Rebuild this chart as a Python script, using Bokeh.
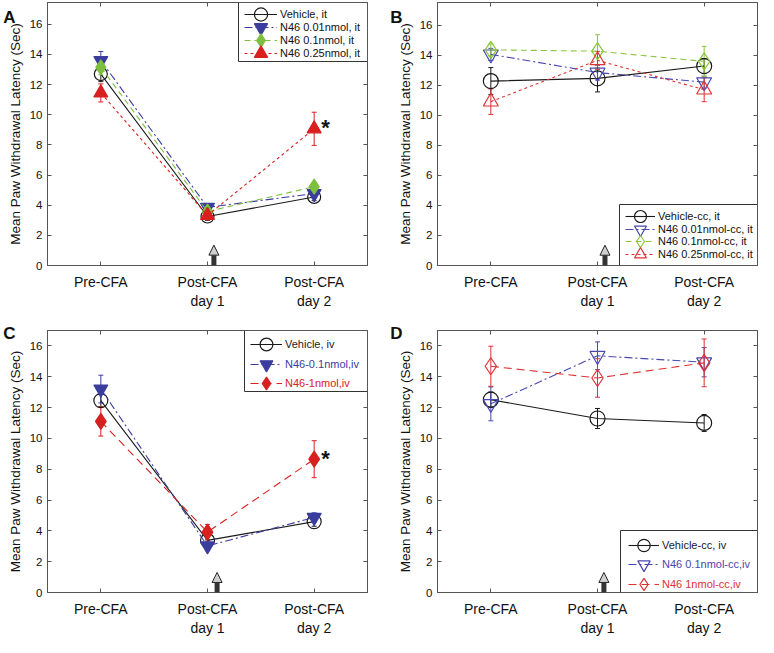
from bokeh.plotting import figure
from bokeh.models import (Range1d, FixedTicker, LinearAxis, Label, Arrow, NormalHead,
                          Whisker, TeeHead, ColumnDataSource, Legend, LegendItem, BoxAnnotation)
from bokeh.layouts import column, row
from bokeh.embed import file_html
from bokeh.resources import INLINE

FONT = "Liberation Sans"

# ---------------- data ----------------
days = [1, 2, 3]
tick_labels = {1: "Pre-CFA", 2: "Post-CFA\nday 1", 3: "Post-CFA\nday 2"}
y_ticks = [0, 2, 4, 6, 8, 10, 12, 14, 16]
y_label = "Mean Paw Withdrawal Latency (Sec)"

# Panel A
a_names = ["Vehicle, it", "N46 0.01nmol, it", "N46 0.1nmol, it", "N46 0.25nmol, it"]
a_vehicle = [12.7, 3.25, 4.55]
a_vehicle_err = [0.5, 0.25, 0.25]
a_n001 = [13.6, 3.86, 4.77]
a_n001_err = [0.6, 0.25, 0.3]
a_n01 = [13.15, 3.58, 5.23]
a_n01_err = [0.5, 0.3, 0.2]
a_n025 = [11.45, 3.32, 9.07]
a_n025_err = [0.6, 0.3, 1.1]

# Panel B
b_names = ["Vehicle-cc, it", "N46 0.01nmol-cc, it", "N46 0.1nmol-cc, it", "N46 0.25nmol-cc, it"]
b_vehicle = [12.27, 12.45, 13.27]
b_vehicle_err = [0.9, 0.9, 0.5]
b_n001 = [14.05, 12.84, 12.2]
b_n001_err = [0.4, 0.5, 0.4]
b_n01 = [14.35, 14.26, 13.58]
b_n01_err = [0.4, 1.1, 1.0]
b_n025 = [10.9, 13.65, 11.7]
b_n025_err = [0.85, 0.6, 0.8]

# Panel C
c_names = ["Vehicle, iv", "N46-0.1nmol,iv", "N46-1nmol,iv"]
c_vehicle = [12.45, 3.38, 4.6]
c_vehicle_err = [0.4, 0.3, 0.3]
c_n01 = [13.2, 3.02, 4.87]
c_n01_err = [0.9, 0.3, 0.3]
c_n1 = [11.1, 3.92, 8.65]
c_n1_err = [0.95, 0.5, 1.2]

# Panel D
d_names = ["Vehicle-cc, iv", "N46 0.1nmol-cc,iv", "N46 1nmol-cc,iv"]
d_vehicle = [12.51, 11.29, 11.0]
d_vehicle_err = [0.5, 0.65, 0.55]
d_n01 = [12.24, 15.36, 14.94]
d_n01_err = [1.1, 0.9, 0.95]
d_n1 = [14.68, 13.92, 14.9]
d_n1_err = [1.3, 1.25, 1.55]

# ---------------- styles ----------------
BLACK = "#1a1a1a"
BLUE_F = "#3a3d9e"
GREEN_F = "#7dbf3f"
RED_F = "#d8201f"
BLUE_O = "#4848b0"
GREEN_O = "#8cc63c"
RED_O = "#dd3333"


def hidden_axis(ticks):
    return LinearAxis(ticker=FixedTicker(ticks=ticks), major_label_text_font_size="1px",
                      major_label_text_color=None, major_label_standoff=0,
                      major_tick_in=4, major_tick_out=0, minor_tick_line_color=None,
                      axis_line_color="#555555", major_tick_line_color="#555555")


def base_fig(fw, fh, bl, br, bt, bb, ymax):
    p = figure(frame_width=fw, frame_height=fh, x_range=Range1d(0.5, 3.5), y_range=Range1d(0, ymax),
               output_backend="svg", toolbar_location=None,
               min_border_left=bl, min_border_right=br, min_border_top=bt, min_border_bottom=bb)
    p.xgrid.visible = False
    p.ygrid.visible = False
    p.outline_line_color = "#555555"
    p.outline_line_width = 1
    p.background_fill_color = "white"
    p.border_fill_color = "white"

    xa = p.xaxis[0]
    xa.ticker = FixedTicker(ticks=days)
    xa.major_label_overrides = tick_labels
    xa.major_label_text_font = FONT
    xa.major_label_text_font_size = "14px"
    xa.major_label_text_color = "#111111"
    xa.major_label_standoff = 8
    ya = p.yaxis[0]
    ya.ticker = FixedTicker(ticks=y_ticks)
    ya.major_label_text_font = FONT
    ya.major_label_text_font_size = "11.5px"
    ya.major_label_text_color = "#111111"
    ya.major_label_standoff = 5
    ya.axis_label = y_label
    ya.axis_label_text_font = FONT
    ya.axis_label_text_font_size = "13.5px"
    ya.axis_label_text_font_style = "normal"
    ya.axis_label_text_color = "#111111"
    ya.axis_label_standoff = 4
    for ax in (xa, ya):
        ax.axis_line_color = "#555555"
        ax.major_tick_in = 4
        ax.major_tick_out = 0
        ax.major_tick_line_color = "#555555"
        ax.minor_tick_line_color = None

    p.add_layout(hidden_axis(y_ticks), "right")
    p.add_layout(hidden_axis(days), "above")
    return p


def add_series(p, y, err, color, dash, marker, size, filled):
    src = ColumnDataSource(dict(x=days, y=y,
                                upper=[v + e for v, e in zip(y, err)],
                                lower=[v - e for v, e in zip(y, err)]))
    w = Whisker(source=src, base="x", upper="upper", lower="lower",
                line_color=color, line_width=1,
                upper_head=TeeHead(size=5, line_color=color, line_width=1),
                lower_head=TeeHead(size=5, line_color=color, line_width=1))
    p.add_layout(w)
    lr = p.line("x", "y", source=src, line_color=color, line_dash=dash, line_width=1.1)
    sr = p.scatter("x", "y", source=src, marker=marker, size=size, line_color=color,
                   fill_color=color if filled else None, line_width=1.2)
    return [lr, sr]


def add_arrow(p, dx, top):
    p.add_layout(Arrow(end=NormalHead(size=10, fill_color="#d0d0d0", line_color="#222222", line_width=1),
                       x_start=2 + dx, y_start=0, x_end=2 + dx, y_end=top,
                       line_color="#333333", line_width=5))


def letter_axis(p, letter, standoff):
    # panel letter drawn as the single tick label of an extra outer left axis
    p.extra_y_ranges = {"lab": Range1d(0, 1)}
    ax = LinearAxis(y_range_name="lab", ticker=FixedTicker(ticks=[1]), major_label_overrides={1: letter},
                    major_label_text_font=FONT, major_label_text_font_size="17px",
                    major_label_text_font_style="bold", major_label_text_color="#111111",
                    major_label_standoff=standoff, major_tick_in=0, major_tick_out=0,
                    major_tick_line_color=None, minor_tick_line_color=None, axis_line_color=None)
    p.add_layout(ax, "left")


def add_star(p, y):
    p.add_layout(Label(x=3, y=y, x_offset=7, y_offset=1, text="*", text_font=FONT,
                       text_font_size="22px", text_font_style="bold", text_color="#111111",
                       text_baseline="middle", text_align="left"))


def framed_legend(p, names, rends, colors, fw, fh, ymax, box_w, box_h, box_top, rows, glyph_off, glyph_w):
    # white framed box (pixel geometry converted to data units)
    left = 0.5 + 3.0 * (fw - box_w) / fw
    top = ymax * (fh - box_top) / fh
    bottom = ymax * (fh - box_top - box_h) / fh
    p.add_layout(BoxAnnotation(left=left, right=3.5, top=top, bottom=bottom,
                               fill_color="white", fill_alpha=1,
                               line_color="#333333", line_alpha=1, line_width=1))
    item_h = 34
    for n, r, c, rc in zip(names, rends, colors, rows):
        yb = fh - (box_top + rc + item_h / 2)
        leg = Legend(items=[LegendItem(label=n, renderers=r)],
                     location=(fw - box_w + glyph_off, yb), padding=0, spacing=0, margin=0,
                     glyph_width=glyph_w, glyph_height=item_h, label_height=12, label_standoff=3,
                     label_text_font=FONT, label_text_font_size="11px", label_text_color=c,
                     border_line_color=None, background_fill_alpha=0)
        p.add_layout(leg)


# ---------------- layout numbers ----------------
FW = 320
FH_A = 263
FH_C = 262
A_YMAX, C_YMAX = 17.45, 17.0

# ---- Panel A ----
pA = base_fig(FW, FH_A, 39, 14, 2, 57, A_YMAX)
rA = [
    add_series(pA, a_vehicle, a_vehicle_err, BLACK, "solid", "circle", 13, False),
    add_series(pA, a_n001, a_n001_err, BLUE_F, "8 3 2 3", "inverted_triangle", 14, True),
    add_series(pA, a_n01, a_n01_err, GREEN_F, "6 4", "diamond", 15, True),
    add_series(pA, a_n025, a_n025_err, RED_F, "3 3", "triangle", 14, True),
]
add_arrow(pA, 0.06, 1.35)
add_star(pA, a_n025[2])
framed_legend(pA, a_names, rA, ["#111111"] * 4, FW, FH_A, A_YMAX,
              129, 59, 0, [11.5, 24.5, 37.5, 50.5], 6, 33)
letter_axis(pA, "A", -11)

# ---- Panel B ----
pB = base_fig(FW, FH_A, 56, 9, 2, 57, 17.5)
rB = [
    add_series(pB, b_vehicle, b_vehicle_err, BLACK, "solid", "circle", 15, False),
    add_series(pB, b_n001, b_n001_err, BLUE_O, "8 3 2 3", "inverted_triangle", 15, False),
    add_series(pB, b_n01, b_n01_err, GREEN_O, "6 4", "diamond", 17, False),
    add_series(pB, b_n025, b_n025_err, RED_O, "3 3", "triangle", 15, False),
]
add_arrow(pB, 0.07, 1.35)
framed_legend(pB, b_names, rB, ["#111111"] * 4, FW, FH_A, 17.5,
              138, 61, FH_A - 61, [12, 24.5, 37, 50], 6, 30)
letter_axis(pB, "B", -8)

# ---- Panel C ----
pC = base_fig(FW, FH_C, 39, 14, 8, 45, C_YMAX)
rC = [
    add_series(pC, c_vehicle, c_vehicle_err, BLACK, "solid", "circle", 14, False),
    add_series(pC, c_n01, c_n01_err, BLUE_F, "8 3 2 3", "inverted_triangle", 14, True),
    add_series(pC, c_n1, c_n1_err, RED_F, "8 5", "diamond", 16, True),
]
add_arrow(pC, 0.09, 1.3)
add_star(pC, c_n1[2])
framed_legend(pC, c_names, rC, [BLACK, BLUE_F, RED_F], FW, FH_C, C_YMAX,
              123, 61, 0, [13.7, 33.7, 52.7], 6, 32)
letter_axis(pC, "C", -11)

# ---- Panel D ----
pD = base_fig(FW, FH_C, 56, 9, 8, 45, C_YMAX)
rD = [
    add_series(pD, d_vehicle, d_vehicle_err, BLACK, "solid", "circle", 15, False),
    add_series(pD, d_n01, d_n01_err, BLUE_O, "8 3 2 3", "inverted_triangle", 15, False),
    add_series(pD, d_n1, d_n1_err, RED_O, "8 5", "diamond", 17, False),
]
add_arrow(pD, 0.06, 1.3)
framed_legend(pD, d_names, rD, [BLACK, BLUE_O, RED_O], FW, FH_C, C_YMAX,
              137, 62, FH_C - 62, [15, 34, 54], 8, 31)
letter_axis(pD, "D", -8)

layout = column(row(pA, pB), row(pC, pD))

open("out.html", "w").write(file_html(layout, INLINE))
